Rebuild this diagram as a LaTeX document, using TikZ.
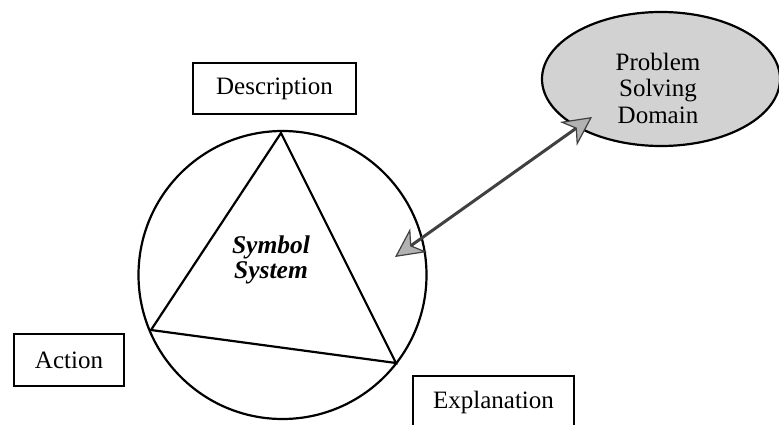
\documentclass[tikz,border=0pt]{standalone}
\usepackage{fontspec}
\setmainfont{Liberation Serif}
\usetikzlibrary{shapes.geometric,arrows.meta}
\begin{document}
\begin{tikzpicture}[x=1pt,y=-1pt,
  labelbox/.style={draw=black, line width=2.2pt, rectangle, inner sep=0pt,
    font=\fontsize{25}{26}\selectfont},
  outline/.style={draw=black, line width=2.2pt},
  linktip/.tip={Stealth[length=29pt, width=29pt, inset=9pt, fill=gray!60, line width=1.2pt]},
  link/.style={draw=gray!50!black, line width=3pt, {linktip}-{linktip}}
]
\useasboundingbox (0,0) rectangle (779,425);

% label boxes
\node[labelbox, minimum width=163pt, minimum height=51pt] (desc) at (274.5,88.5) {Description};
\node[labelbox, minimum width=110pt, minimum height=52pt] (act) at (69,360) {Action};
\node[labelbox, minimum width=161pt, minimum height=52pt] (expl) at (493.5,402) {Explanation};

% symbol system circle with inscribed triangle
\node[circle, outline, minimum size=288pt, inner sep=0pt] (sym) at (282.5,275) {};
\coordinate (vtop) at (281,133);
\coordinate (vleft) at (151,330);
\coordinate (vright) at (396,363);
\draw[outline] (vtop) -- (vright) -- (vleft) -- cycle;
\node[font=\fontsize{25.5}{25}\selectfont\bfseries\itshape, align=center] (symtext) at (271,260) {Symbol\\System};

% problem solving domain
\node[ellipse, draw=black, line width=2.2pt, fill=gray!35, minimum width=238pt, minimum height=134pt, inner sep=0pt] (psd) at (661,79) {};
\node[font=\fontsize{25}{26.5}\selectfont, align=center] (psdtext) at (658,88) {Problem\\Solving\\Domain};

% two-way link
\coordinate (linkin) at (395,257);
\coordinate (linkout) at (592,117);
\draw[link] (linkout) -- (linkin);
\end{tikzpicture}
\end{document}
